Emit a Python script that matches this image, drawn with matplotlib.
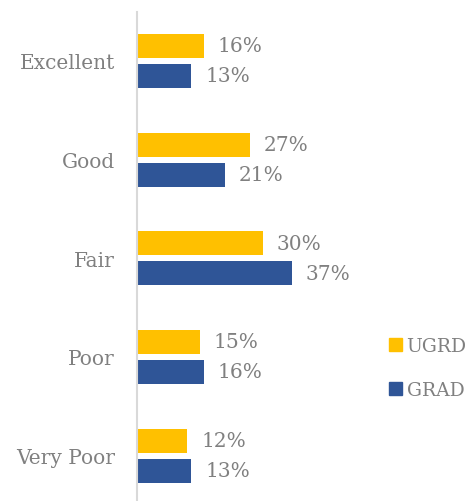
import matplotlib
matplotlib.use("Agg")
import matplotlib.pyplot as plt
from matplotlib.patches import Patch

categories = ["Excellent", "Good", "Fair", "Poor", "Very Poor"]
ugrd = [16, 27, 30, 15, 12]
grad = [13, 21, 37, 16, 13]
series_names = ["UGRD", "GRAD"]
colors = ["#FFC000", "#2F5597"]
text_color = "#808080"

plt.rcParams['font.family'] = ['DejaVu Serif']
FS = 14.5

W, H = 468, 502
fig = plt.figure(figsize=(W / 100, H / 100), dpi=100)
px_per_unit = 4.19
xmax = 40
top_px, bot_px = 12.6, 506
ax = fig.add_axes([137 / W, 1 - bot_px / H, xmax * px_per_unit / W, (bot_px - top_px) / H])

n = len(categories)
bh = 0.243
off = 0.152
y_u = [i - off for i in range(n)]
y_g = [i + off for i in range(n)]
ax.barh(y_u, ugrd, height=bh, color=colors[0])
ax.barh(y_g, grad, height=bh, color=colors[1])

for y, v in zip(y_u, ugrd):
    ax.annotate(f"{v}%", (v, y), xytext=(10, 0), textcoords="offset points",
                va="center", ha="left", fontsize=FS, color=text_color, annotation_clip=False)
for y, v in zip(y_g, grad):
    ax.annotate(f"{v}%", (v, y), xytext=(10, 0), textcoords="offset points",
                va="center", ha="left", fontsize=FS, color=text_color, annotation_clip=False)

ax.set_xlim(0, xmax)
ax.set_ylim(n - 0.5, -0.5)
ax.set_yticks(range(n))
ax.set_yticklabels(categories, fontsize=FS, color=text_color)
ax.tick_params(axis="y", length=0, pad=16)
ax.set_xticks([])
for s in ["top", "right", "bottom"]:
    ax.spines[s].set_visible(False)
ax.spines["left"].set_color("#D9D9D9")
ax.spines["left"].set_linewidth(1.5)

handles = [Patch(color=colors[0]), Patch(color=colors[1])]
leg = fig.legend(handles, series_names, loc="center left", bbox_to_anchor=(385 / W, 1 - 369 / H),
                 frameon=False, fontsize=13.5, labelcolor=text_color, handlelength=0.7,
                 handleheight=0.7, handletextpad=0.25, labelspacing=1.35, borderaxespad=0,
                 borderpad=0.2)

fig.savefig("out.png", dpi=100)
